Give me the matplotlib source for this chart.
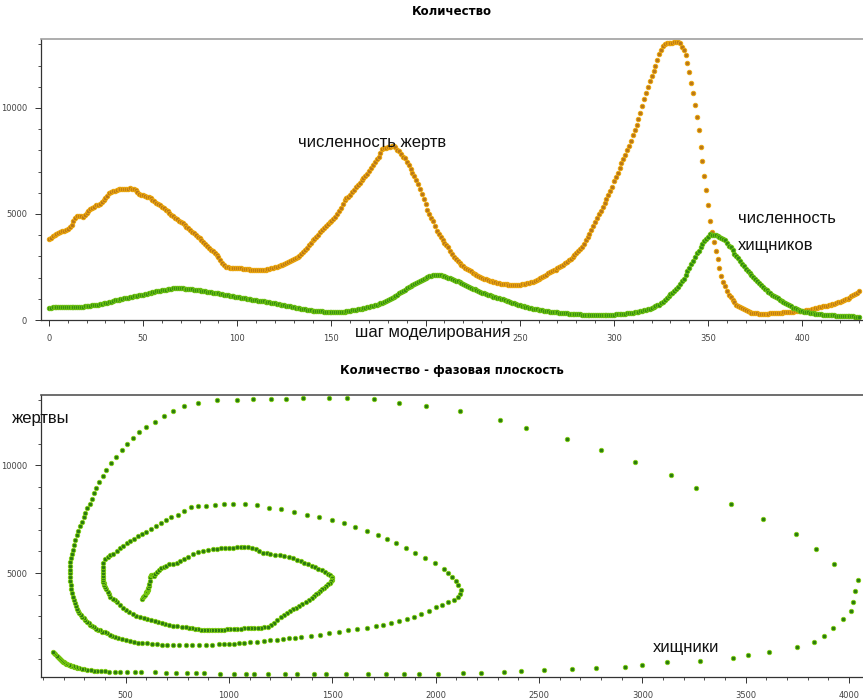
import numpy as np
import matplotlib
matplotlib.use("Agg")
import matplotlib.pyplot as plt
from matplotlib.ticker import MultipleLocator, FuncFormatter

# численность жертв по шагам моделирования (0..430)
prey = [
    3800, 3880, 3950, 4000, 4060, 4100, 4140, 4180, 4210, 4250,
    4300, 4400, 4500, 4650, 4800, 4900, 4920, 4900, 4880, 4950,
    5050, 5130, 5220, 5300, 5350, 5400, 5440, 5480, 5560, 5650,
    5750, 5870, 5980, 6040, 6080, 6100, 6130, 6160, 6170, 6180,
    6170, 6190, 6200, 6210, 6190, 6170, 6120, 6030, 5950, 5910,
    5880, 5850, 5820, 5780, 5740, 5680, 5610, 5540, 5480, 5400,
    5330, 5260, 5190, 5120, 5040, 4970, 4900, 4830, 4760, 4690,
    4620, 4560, 4480, 4400, 4320, 4250, 4170, 4090, 4010, 3930,
    3850, 3760, 3670, 3580, 3490, 3400, 3320, 3240, 3150, 3070,
    2950, 2830, 2700, 2600, 2500, 2480, 2470, 2460, 2450, 2450,
    2440, 2440, 2430, 2420, 2410, 2400, 2390, 2380, 2380, 2370,
    2370, 2360, 2360, 2350, 2360, 2380, 2400, 2420, 2440, 2460,
    2480, 2510, 2540, 2570, 2600, 2640, 2690, 2730, 2780, 2830,
    2880, 2930, 2970, 3020, 3100, 3190, 3290, 3400, 3520, 3640,
    3750, 3820, 3900, 4010, 4130, 4240, 4350, 4430, 4520, 4600,
    4680, 4750, 4880, 5010, 5150, 5300, 5480, 5660, 5740, 5820,
    5900, 6020, 6140, 6250, 6370, 6480, 6600, 6700, 6800, 6900,
    7040, 7180, 7320, 7450, 7580, 7700, 7880, 8050, 8090, 8120,
    8150, 8180, 8200, 8190, 8150, 8030, 7950, 7840, 7700, 7620,
    7470, 7320, 7140, 6950, 6770, 6590, 6400, 6170, 5940, 5700,
    5450, 5190, 5010, 4830, 4650, 4430, 4200, 4050, 3900, 3750,
    3640, 3530, 3420, 3260, 3110, 2950, 2860, 2770, 2680, 2600,
    2530, 2450, 2400, 2360, 2290, 2220, 2150, 2100, 2060, 2010,
    1970, 1940, 1910, 1880, 1850, 1820, 1800, 1780, 1760, 1730,
    1720, 1700, 1690, 1680, 1670, 1660, 1660, 1650, 1650, 1660,
    1670, 1680, 1700, 1720, 1740, 1760, 1780, 1810, 1850, 1890,
    1930, 1980, 2030, 2090, 2140, 2200, 2250, 2290, 2340, 2380,
    2430, 2490, 2550, 2610, 2680, 2750, 2820, 2900, 2970, 3050,
    3150, 3250, 3350, 3460, 3600, 3750, 3900, 4070, 4250, 4430,
    4620, 4800, 4980, 5160, 5350, 5530, 5720, 5900, 6080, 6290,
    6550, 6750, 6950, 7170, 7380, 7600, 7800, 8000, 8200, 8450,
    8700, 8950, 9200, 9480, 9780, 10100, 10400, 10700, 10980, 11260,
    11520, 11760, 12000, 12260, 12520, 12720, 12900, 13000, 13040, 13050,
    13060, 13080, 13100, 13120, 13120, 13050, 12890, 12730, 12500, 12100,
    11710, 11190, 10690, 10150, 9550, 8950, 8180, 7500, 6800, 6110,
    5420, 4680, 4170, 3670, 3240, 2860, 2470, 2080, 1790, 1590,
    1360, 1200, 1080, 940, 860, 720, 660, 600, 550, 505,
    475, 420, 380, 350, 330, 320, 310, 305, 300, 300,
    300, 305, 305, 310, 315, 320, 325, 330, 340, 350,
    360, 370, 380, 390, 395, 400, 405, 410, 415, 420,
    430, 440, 455, 470, 485, 500, 520, 545, 570, 595,
    620, 640, 660, 680, 700, 720, 745, 770, 800, 830,
    860, 890, 930, 970, 1010, 1060, 1110, 1170, 1230, 1290,
    1350,
]

# численность хищников по шагам моделирования (0..430)
predators = [
    580, 585, 590, 595, 598, 600, 602, 604, 606, 608,
    610, 612, 614, 616, 618, 620, 625, 630, 636, 643,
    650, 660, 672, 685, 697, 710, 728, 746, 764, 782,
    800, 824, 848, 872, 896, 920, 940, 960, 980, 1000,
    1020, 1038, 1056, 1074, 1092, 1110, 1128, 1146, 1164, 1182,
    1200, 1222, 1244, 1266, 1288, 1310, 1328, 1346, 1364, 1382,
    1400, 1416, 1432, 1448, 1464, 1480, 1490, 1496, 1500, 1500,
    1495, 1488, 1480, 1470, 1460, 1450, 1440, 1430, 1420, 1410,
    1400, 1385, 1370, 1355, 1340, 1325, 1310, 1295, 1280, 1265,
    1250, 1234, 1218, 1202, 1186, 1170, 1154, 1138, 1122, 1106,
    1090, 1073, 1057, 1040, 1023, 1006, 990, 975, 960, 945,
    930, 917, 904, 891, 878, 865, 850, 835, 820, 805,
    790, 770, 750, 730, 710, 692, 675, 657, 640, 622,
    604, 586, 568, 550, 534, 518, 502, 486, 470, 458,
    447, 436, 425, 418, 412, 406, 400, 397, 394, 392,
    390, 389, 388, 388, 389, 389, 390, 400, 412, 426,
    440, 456, 472, 488, 504, 520, 540, 560, 580, 600,
    620, 645, 670, 695, 720, 752, 784, 816, 850, 890,
    930, 975, 1020, 1077, 1135, 1192, 1250, 1312, 1375, 1437,
    1500, 1555, 1610, 1665, 1720, 1765, 1810, 1855, 1900, 1947,
    1994, 2040, 2060, 2080, 2100, 2110, 2120, 2118, 2110, 2090,
    2060, 2030, 2000, 1965, 1930, 1895, 1860, 1822, 1785, 1747,
    1710, 1665, 1620, 1575, 1530, 1485, 1440, 1395, 1350, 1320,
    1290, 1260, 1230, 1200, 1168, 1135, 1102, 1070, 1046, 1022,
    998, 974, 950, 918, 886, 853, 820, 790, 760, 730,
    700, 676, 652, 628, 604, 580, 560, 540, 520, 500,
    480, 465, 450, 435, 422, 410, 398, 387, 376, 366,
    356, 346, 337, 328, 320, 312, 304, 297, 290, 283,
    276, 270, 264, 258, 253, 248, 244, 240, 237, 234,
    232, 230, 229, 229, 230, 232, 235, 239, 244, 249,
    255, 262, 270, 278, 287, 296, 305, 315, 325, 335,
    345, 358, 372, 388, 405, 428, 455, 480, 505, 535,
    565, 600, 640, 685, 730, 780, 850, 940, 1037, 1117,
    1205, 1275, 1360, 1484, 1569, 1700, 1821, 1953, 2115, 2311,
    2437, 2637, 2798, 2962, 3136, 3260, 3428, 3581, 3742, 3840,
    3927, 4045, 4030, 4020, 4010, 3970, 3920, 3880, 3830, 3750,
    3610, 3510, 3440, 3280, 3120, 3000, 2915, 2775, 2660, 2525,
    2410, 2330, 2220, 2130, 2010, 1920, 1845, 1760, 1670, 1565,
    1470, 1410, 1330, 1270, 1190, 1120, 1080, 1025, 955, 880,
    840, 795, 745, 695, 640, 575, 545, 505, 470, 448,
    420, 400, 380, 360, 345, 330, 315, 300, 288, 276,
    266, 258, 250, 243, 236, 230, 224, 218, 212, 206,
    200, 195, 190, 186, 182, 178, 172, 166, 160, 154,
    148,
]

steps = np.arange(len(prey))
assert len(prey) == len(predators)

TITLE_TOP = "Количество"
TITLE_PHASE = "Количество - фазовая плоскость"

PREY_FACE, PREY_EDGE = "#b8761a", "#eba60c"
PRED_FACE, PRED_EDGE = "#2f8a12", "#6cc010"
PHASE_FACE, PHASE_EDGE = "#2a7a10", "#80d010"

LABEL_FONT = ["Liberation Sans", "DejaVu Sans"]


def style_axes(ax, top_color):
    ax.spines["right"].set_visible(False)
    ax.spines["top"].set_color(top_color)
    ax.spines["top"].set_linewidth(1.2)
    for side in ("left", "bottom"):
        ax.spines[side].set_color("#333333")
        ax.spines[side].set_linewidth(0.9)
    ax.tick_params(which="major", length=4, width=0.7, colors="#333333",
                   labelsize=6, labelcolor="#444444", pad=6)
    ax.tick_params(which="minor", length=2.5, width=0.6, colors="#333333")


fig = plt.figure(figsize=(8.63, 6.99), dpi=100)
fig.patch.set_facecolor("white")

# --- временной ряд ---
ax1 = fig.add_axes([0.0475, 0.5422, 0.952, 0.402])
ax1.plot(steps, prey, linestyle="none", marker="o", ms=3.2,
         mfc=PREY_FACE, mec=PREY_EDGE, mew=0.7)
ax1.plot(steps, predators, linestyle="none", marker="o", ms=3.2,
         mfc=PRED_FACE, mec=PRED_EDGE, mew=0.7)
ax1.set_xlim(-4.2, 432)
ax1.set_ylim(0, 13250)
ax1.xaxis.set_major_locator(MultipleLocator(50))
ax1.xaxis.set_minor_locator(MultipleLocator(10))
# the axis caption sits on top of the "200" label in the original
ax1.xaxis.set_major_formatter(
    FuncFormatter(lambda v, pos: "" if abs(v - 200) < 1e-6 else f"{v:.0f}"))
ax1.yaxis.set_major_locator(MultipleLocator(5000))
ax1.yaxis.set_minor_locator(MultipleLocator(1000))
style_axes(ax1, "#a0a0a0")
ax1.set_title(TITLE_TOP, fontsize=8.5, fontweight="bold", pad=17)

ax1.text(132, 8350, "численность жертв", fontsize=12, family=LABEL_FONT,
         ha="left", va="center", color="#111111")
ax1.text(366, 4800, "численность", fontsize=12, family=LABEL_FONT,
         ha="left", va="center", color="#111111")
ax1.text(366, 3500, "хищников", fontsize=12, family=LABEL_FONT,
         ha="left", va="center", color="#111111")
ax1.text(0.3825, -0.046, "шаг моделирования", transform=ax1.transAxes,
         fontsize=12, family=LABEL_FONT, ha="left", va="center",
         color="#111111")

# --- фазовая плоскость ---
ax2 = fig.add_axes([0.0475, 0.0315, 0.952, 0.4034])
ax2.plot(predators, prey, linestyle="none", marker="o", ms=3.2,
         mfc=PHASE_FACE, mec=PHASE_EDGE, mew=0.6)
ax2.set_xlim(90, 4065)
ax2.set_ylim(185, 13250)
ax2.xaxis.set_major_locator(MultipleLocator(500))
ax2.xaxis.set_minor_locator(MultipleLocator(100))
ax2.yaxis.set_major_locator(MultipleLocator(5000))
ax2.yaxis.set_minor_locator(MultipleLocator(1000))
style_axes(ax2, "#555555")
ax2.set_title(TITLE_PHASE, fontsize=8.5, fontweight="bold", pad=15)

ax2.text(3050, 1570, "хищники", fontsize=12, family=LABEL_FONT,
         ha="left", va="center", color="#111111")
fig.text(0.014, 0.402, "жертвы", fontsize=12, family=LABEL_FONT,
         ha="left", va="center", color="#111111")

fig.savefig("out.png", dpi=100)
